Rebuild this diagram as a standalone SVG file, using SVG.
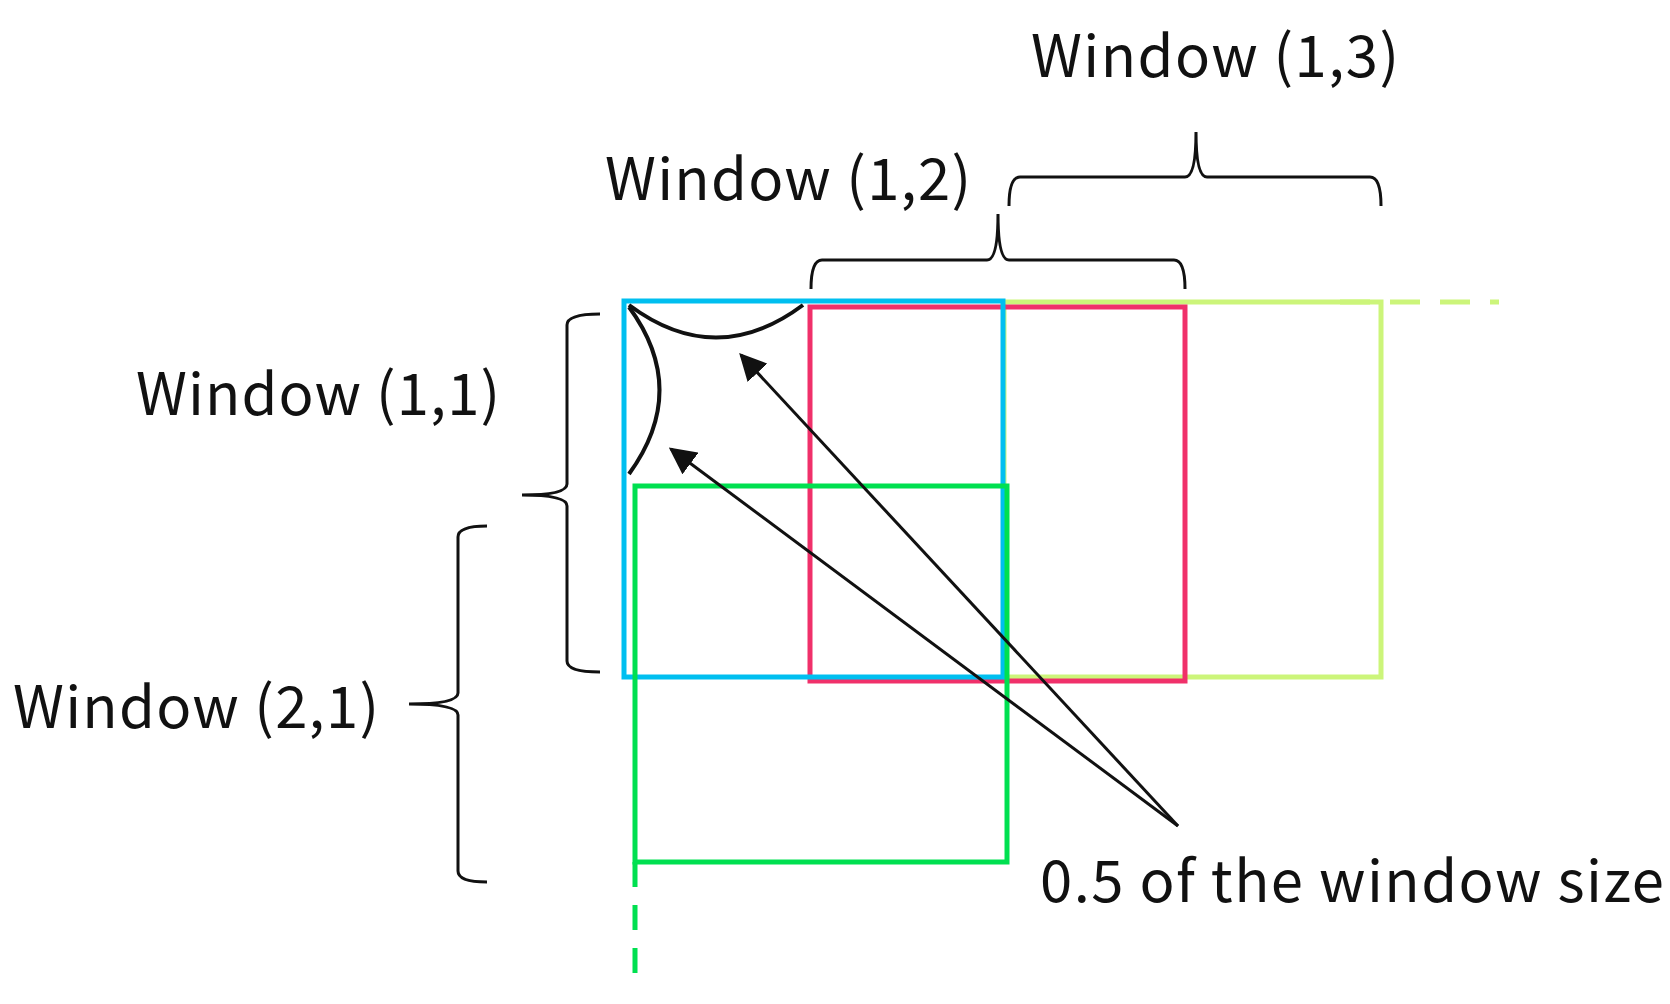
<svg xmlns="http://www.w3.org/2000/svg" width="1670" height="1004" viewBox="0 0 1670 1004">
<style>
text{font-family:"Noto Sans CJK JP","Noto Sans",sans-serif;font-size:58px;fill:#111}
.r{fill:none;stroke-width:5}
.b{fill:none;stroke:#111;stroke-width:3}
</style>
<defs><marker id="a" viewBox="0 0 10 10" refX="9" refY="5" markerWidth="9" markerHeight="9" orient="auto"><path d="M0,0L10,5L0,10z" fill="#111"/></marker></defs>
<rect width="1670" height="1004" fill="#fff"/>
<g id="w13"><rect class="r" x="1004" y="302" width="377" height="375" stroke="#ccf57a"/><line x1="1340" y1="302" x2="1499" y2="302" stroke="#ccf57a" stroke-width="5" stroke-dasharray="30,20"/></g>
<g id="w12"><rect class="r" x="810" y="307" width="375" height="374" stroke="#f0306a"/></g>
<g id="w11"><rect class="r" x="624" y="301" width="379" height="376" stroke="#00bff0"/></g>
<g id="w21"><rect class="r" x="635" y="486" width="372" height="376" stroke="#00e050"/><line x1="635" y1="862" x2="635" y2="974" stroke="#00e050" stroke-width="5" stroke-dasharray="25,18"/></g>
<g id="labels">
<text x="1031" y="77" textLength="368">Window (1,3)</text>
<text x="605" y="200" textLength="366">Window (1,2)</text>
<text x="136" y="415" textLength="364">Window (1,1)</text>
<text x="13" y="728" textLength="366">Window (2,1)</text>
<text x="1040" y="902" textLength="624">0.5 of the window size</text>
</g>
<g id="connectors">
<path class="b" d="M1009,206 Q1009,177 1020,177 H1185 Q1196,177 1196,132 Q1196,177 1207,177 H1370 Q1381,177 1381,206"/>
<path class="b" d="M811,289 Q811,260 822,260 H987 Q998,260 998,214 Q998,260 1009,260 H1174 Q1185,260 1185,289"/>
<path class="b" d="M600,314 Q567,314 567,325 V484 Q567,495 522,495 Q567,495 567,506 V661 Q567,672 600,672"/>
<path class="b" d="M487,526 Q458,526 458,537 V693 Q458,704 409,704 Q458,704 458,715 V871 Q458,882 487,882"/>
<path d="M629,305 Q716,370 803,305" fill="none" stroke="#111" stroke-width="4"/>
<path d="M629,307 Q690,390 629,474" fill="none" stroke="#111" stroke-width="4"/>
<line class="b" x1="1178" y1="826" x2="741" y2="355" marker-end="url(#a)"/>
<line class="b" x1="1178" y1="826" x2="671" y2="449" marker-end="url(#a)"/>
</g>
</svg>
